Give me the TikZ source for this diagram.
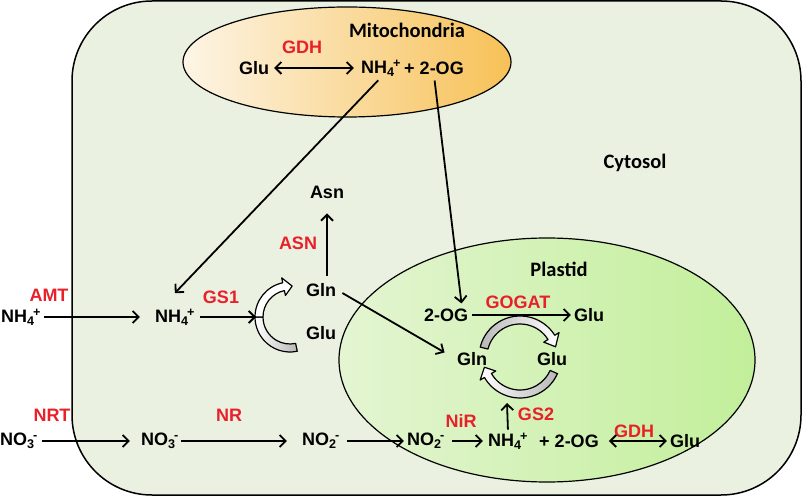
\documentclass[tikz,border=0pt]{standalone}
\usepackage{fontspec}
\setmainfont{Liberation Sans}
\newfontfamily\compfont{Carlito}
\usetikzlibrary{arrows.meta}

\definecolor{cytfill}{HTML}{EBF1E1}
\definecolor{mitoleft}{HTML}{FDF5E6}
\definecolor{mitoright}{HTML}{F7C157}
\definecolor{plastleft}{HTML}{E4F5D2}
\definecolor{plastright}{HTML}{C2EF9A}
\definecolor{enzred}{HTML}{E8202A}
\definecolor{tailgray}{HTML}{B8B8B8}

\newcommand{\nion}[3]{#1\textsubscript{#2}\kern-0.08em\textsuperscript{#3}}

% curved block arrows: style, centre, radius, from, to (, tip)
\newcommand{\bandarc}[5]{%
  \pgfmathsetmacro\rout{#3+4}\pgfmathsetmacro\rin{#3-4}%
  \draw[#1] ([shift={(#4:\rout)}]#2) arc[start angle=#4,end angle=#5,radius=\rout]
    -- ([shift={(#5:\rin)}]#2) arc[start angle=#5,end angle=#4,radius=\rin] -- cycle;}
\newcommand{\headarc}[6]{%
  \pgfmathsetmacro\rout{#3+4}\pgfmathsetmacro\rin{#3-4}%
  \pgfmathsetmacro\wout{#3+9}\pgfmathsetmacro\win{#3-9}%
  \draw[#1] ([shift={(#4:\rout)}]#2) arc[start angle=#4,end angle=#5,radius=\rout]
    -- ([shift={(#5:\wout)}]#2) -- ([shift={(#6:#3)}]#2) -- ([shift={(#5:\win)}]#2)
    -- ([shift={(#5:\rin)}]#2) arc[start angle=#5,end angle=#4,radius=\rin] -- cycle;}

\begin{document}
\begin{tikzpicture}[x=1pt,y=1pt,>={Straight Barb[length=6pt,width=12pt]},
    met node/.style={font=\bfseries\fontsize{18}{21}\selectfont,inner sep=1pt},
    enz node/.style={met node,text=enzred},
    comp node/.style={font=\compfont\bfseries\fontsize{20.5}{24}\selectfont},
    block/.style={line width=1.2pt,line join=round}]

  \useasboundingbox (0,0) rectangle (808,498);

  % compartments
  \draw[fill=cytfill,line width=1.5pt,rounded corners=80pt] (72,3) rectangle (801,497);
  \draw[left color=mitoleft,right color=mitoright,line width=1.2pt]
    (347,436) ellipse [x radius=164,y radius=55];
  \draw[left color=plastleft,right color=plastright,line width=1.2pt]
    (547,138) ellipse [x radius=208,y radius=122];

  \node[comp node] (1) at (407,468) {Mitochondria};
  \node[comp node] (6) at (635,335) {Cytosol};
  \node[comp node] (15) at (559,229) {Plastid};

  % mitochondria
  \node[met node] (2) at (254,430) {Glu};
  \node[met node] (3) at (381,430) {\nion{NH}{4}{+}};
  \node[met node] (4) at (434,430) {+ 2-OG};
  \node[enz node] (5) at (302,451) {GDH};

  % cytosol
  \node[met node] (7) at (21,181) {\nion{NH}{4}{+}};
  \node[enz node] (8) at (49,203) {AMT};
  \node[met node] (9) at (175,181) {\nion{NH}{4}{+}};
  \node[enz node] (10) at (221,201) {GS1};
  \node[met node] (11) at (321,208) {Gln};
  \node[met node] (12) at (321,165) {Glu};
  \node[met node] (13) at (327,306) {Asn};
  \node[enz node] (14) at (298,255) {ASN};
  \node[met node] (21) at (19,57) {\nion{NO}{3}{-}};
  \node[enz node] (22) at (52,83) {NRT};
  \node[met node] (23) at (160,57) {\nion{NO}{3}{-}};
  \node[enz node] (24) at (229,83) {NR};
  \node[met node] (25) at (321,57) {\nion{NO}{2}{-}};

  % plastid
  \node[met node] (16) at (446,183) {2-OG};
  \node[enz node] (17) at (518,196) {GOGAT};
  \node[met node] (18) at (589,183) {Glu};
  \node[met node] (19) at (472,139) {Gln};
  \node[met node] (20) at (552,139) {Glu};
  \node[met node] (26) at (426,57) {\nion{NO}{2}{-}};
  \node[enz node] (27) at (461,77) {NiR};
  \node[met node] (28) at (508,57) {\nion{NH}{4}{+}};
  \node[met node] (29) at (569,57) {+ 2-OG};
  \node[enz node] (30) at (634,67) {GDH};
  \node[met node] (31) at (685,57) {Glu};
  \node[enz node] (32) at (536,84) {GS2};

  \coordinate (gsc) at (290,181);
  \coordinate (c1) at (256,181);
  \coordinate (cyc) at (520,141);
  \coordinate (c2) at (507,95);

  % block arrows
  \bandarc{block,left color=white,right color=tailgray}{gsc}{31}{282}{180}
  \headarc{block,fill=white}{gsc}{31}{180}{102}{86}
  \headarc{block,left color=tailgray,right color=white}{cyc}{37}{166}{32}{16}
  \headarc{block,left color=white,right color=tailgray}{cyc}{37}{-24}{-150}{-164}

  \path[->,line width=1.8pt]
  (3.south) edge[shorten <=4pt,shorten >=20pt] ([xshift=-14pt]9.north)
  (4.south) edge[shorten <=5pt,shorten >=4pt] ([xshift=16pt]16.north)
  (7.east) edge[shorten <=2pt,shorten >=14pt] (9.west)
  (9.east) edge[shorten <=4pt] (c1)
  (11.north -| 13.south) edge[shorten <=6pt,shorten >=14pt] (13.south)
  (11.east) edge[shorten <=6pt,shorten >=13pt] (19.west)
  (16.east) edge[shorten <=3pt,shorten >=2pt] (18.west)
  (21.east) edge[shorten <=3pt,shorten >=10pt] (23.west)
  (23.east) edge[shorten <=1pt,shorten >=14pt] (25.west)
  (25.east) edge[shorten <=6pt,shorten >=2pt] (26.west)
  (26.east) edge[shorten <=6pt,shorten >=4pt] (28.west)
  (28.north) edge[shorten <=2pt] (c2);
  \path[<->,line width=1.8pt]
  (2.east) edge[shorten <=4pt,shorten >=6pt] (3.west)
  (29.east) edge[shorten <=9pt,shorten >=2pt] (31.west);
\end{tikzpicture}
\end{document}
